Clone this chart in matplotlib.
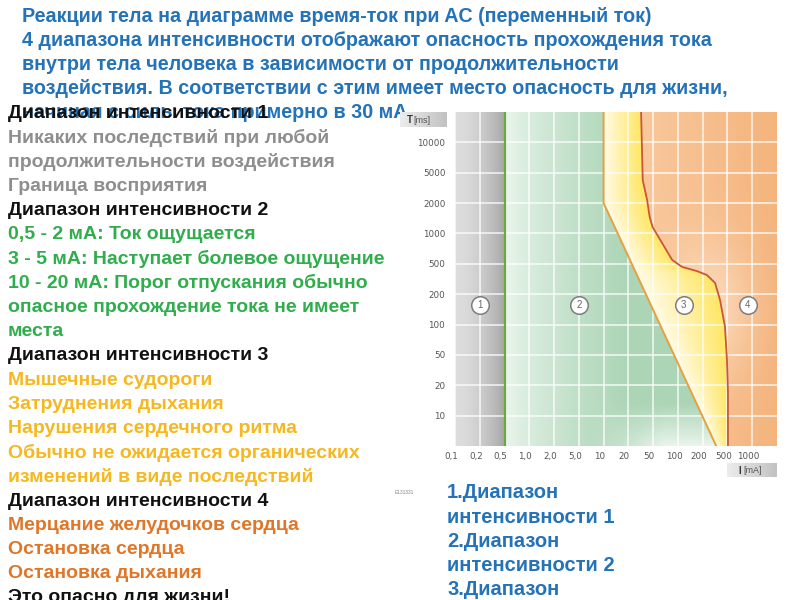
import numpy as np
import matplotlib
matplotlib.use("Agg")
from matplotlib import pyplot as plt
from matplotlib.colors import to_rgb, LinearSegmentedColormap
from matplotlib.transforms import ScaledTranslation

# шкалы диаграммы (ряд 1-2-5, шаг сетки одинаковый)
current_ticks = [0.1, 0.2, 0.5, 1, 2, 5, 10, 20, 50, 100, 200, 500, 1000]
current_labels = ["0,1", "0,2", "0,5", "1,0", "2,0", "5,0", "10", "20", "50", "100", "200", "500", "1000"]
time_ticks = [10, 20, 50, 100, 200, 500, 1000, 2000, 5000, 10000]
time_labels = ["10", "20", "50", "100", "200", "500", "1000", "2000", "5000", "10000"]

# границы зон (мА / мс)
perception_limit = 0.5
curve_b_ma = [10, 10, 330]
curve_b_ms = [20000, 2000, 5]
curve_c_ma = [32, 34, 40, 44, 49, 64, 85, 112, 171, 234, 316, 380, 456, 491, 507, 507]
curve_c_ms = [20000, 4010, 2190, 1454, 1157, 807, 547, 456, 401, 356, 281, 175, 95, 43, 17, 5]

zone_labels = ["1", "2", "3", "4"]
zone_label_ma = [0.2, 5, 118, 880]
zone_label_ms = [155, 155, 155, 155]

title_lines = [
    "Реакции тела на диаграмме время-ток при AC (переменный ток)",
    "4 диапазона интенсивности отображают опасность прохождения тока",
    "внутри тела человека в зависимости от продолжительности",
    "воздействия. В соответствии с этим имеет место опасность для жизни,",
    "начиная с силы тока примерно в 30 мА.",
]

left_lines = [
    ("Диапазон интенсивности 1", "k"),
    ("Никаких последствий при любой", "gray"),
    ("продолжительности воздействия", "gray"),
    ("Граница восприятия", "gray"),
    ("Диапазон интенсивности 2", "k"),
    ("0,5 - 2 мА: Ток ощущается", "green"),
    ("3 - 5 мА: Наступает болевое ощущение", "green"),
    ("10 - 20 мА: Порог отпускания обычно", "green"),
    ("опасное прохождение тока не имеет", "green"),
    ("места", "green"),
    ("Диапазон интенсивности 3", "k"),
    ("Мышечные судороги", "yellow"),
    ("Затруднения дыхания", "yellow"),
    ("Нарушения сердечного ритма", "yellow"),
    ("Обычно не ожидается органических", "yellow"),
    ("изменений в виде последствий", "yellow"),
    ("Диапазон интенсивности 4", "k"),
    ("Мерцание желудочков сердца", "orange"),
    ("Остановка сердца", "orange"),
    ("Остановка дыхания", "orange"),
    ("Это опасно для жизни!", "k"),
]

right_lines = ["1.Диапазон", "интенсивности 1", "2.Диапазон", "интенсивности 2", "3.Диапазон"]

text_colors = {"k": "#111111", "gray": "#8e8e8e", "green": "#30ad4c",
               "yellow": "#f6b81e", "orange": "#e07628"}
BLUE = "#2472b8"

# равномерная сетка: значение -> номер клетки
x_nodes = np.log10(current_ticks + [2000])
y_nodes = np.log10([5] + time_ticks + [20000])


def fwd_x(v):
    return np.interp(np.log10(np.clip(v, 1e-9, None)), x_nodes, np.arange(len(x_nodes)))


def inv_x(p):
    return 10 ** np.interp(p, np.arange(len(x_nodes)), x_nodes)


def fwd_y(v):
    return np.interp(np.log10(np.clip(v, 1e-9, None)), y_nodes, np.arange(len(y_nodes)))


def inv_y(p):
    return 10 ** np.interp(p, np.arange(len(y_nodes)), y_nodes)


def mix(c1, c2, t):
    c1 = np.array(to_rgb(c1))
    c2 = np.array(to_rgb(c2))
    t = np.clip(t, 0, 1)[..., None]
    return c1 + (c2 - c1) * t


fig = plt.figure(figsize=(8, 6), dpi=100)
body_font = ["Liberation Sans", "DejaVu Sans"]

pos = [455 / 800, 1 - 446 / 600, 322 / 800, 334 / 600]

# фон с зонами
bg = fig.add_axes(pos, zorder=0)
nx, ny = len(x_nodes) - 1, len(y_nodes) - 1
W, H = 650, 550
X, Y = np.meshgrid((np.arange(W) + 0.5) / W * nx, (np.arange(H) + 0.5) / H * ny)
xb = np.interp(Y, fwd_y(curve_b_ms)[::-1], fwd_x(curve_b_ma)[::-1])
xc = np.interp(Y, fwd_y(curve_c_ms)[::-1], fwd_x(curve_c_ma)[::-1])
x_lim = fwd_x(perception_limit)

gray = mix("#dddddd", "#a7a7a7", (X / x_lim) ** 1.8)
green = mix("#eef7f0", "#acd5b6", np.clip((X - x_lim) / 5, 0, 1) ** 0.7)
fade = np.clip(1 - Y / 1.4, 0, 1) * np.clip((X - 5.5) / 3, 0, 1)
green = green + (1 - green) * (0.75 * fade)[..., None]
yellow = mix("#fffbea", "#ffe765", ((X - xb) / np.maximum(xc - xb, 1e-6)) ** 0.9)
orange = mix("#f8c699", "#f4b47d", np.clip((X - 8) / 5, 0, 1))
light = np.exp(-((X - 10.2) ** 2 / 3.0 + (Y - 4.5) ** 2 / 5.0))
orange = orange + (np.array(to_rgb("#fde2ca")) - orange) * (0.75 * light)[..., None]

img = np.where((X < x_lim)[..., None], gray,
               np.where((X < xb)[..., None], green,
                        np.where((X < xc)[..., None], yellow, orange)))
bg.imshow(img, extent=(0, nx, 0, ny), origin="lower", aspect="auto", interpolation="bilinear")
bg.set_xlim(0, nx)
bg.set_ylim(0, ny)
bg.axis("off")

# основная ось
ax = fig.add_axes(pos, zorder=1)
ax.patch.set_visible(False)
ax.set_xscale("function", functions=(fwd_x, inv_x))
ax.set_yscale("function", functions=(fwd_y, inv_y))
ax.set_xlim(0.1, 2000)
ax.set_ylim(5, 20000)
ax.set_xticks(current_ticks, current_labels)
ax.set_yticks(time_ticks, time_labels)
ax.minorticks_off()
ax.grid(True, color="white", lw=1.1, alpha=0.85)
ax.tick_params(length=0, labelsize=6.3, labelcolor="#555555")
ax.tick_params(axis="x", pad=4)
ax.tick_params(axis="y", pad=7)
for lab in ax.get_xticklabels():
    lab.set_transform(lab.get_transform() + ScaledTranslation(-4 / 100, 0, fig.dpi_scale_trans))
for s in ax.spines.values():
    s.set_visible(False)

ax.axvline(perception_limit, color="#6aaa3a", lw=1.6, zorder=3)
ax.plot(curve_b_ma, curve_b_ms, color="#e6a03c", lw=1.4, zorder=3)
ax.plot(curve_c_ma, curve_c_ms, color="#c9573a", lw=1.3, zorder=3)

ax.scatter(zone_label_ma, zone_label_ms, s=160, facecolor="white", edgecolor="#7d7d7d", lw=1.1, zorder=5)
for lab, xm, ym in zip(zone_labels, zone_label_ma, zone_label_ms):
    ax.text(xm, ym, lab, ha="center", va="center", fontsize=7, color="#666666", zorder=6,
            family=body_font)

# подписи осей в серых плашках
grad = np.linspace(0, 1, 100)[None, :]
for (x0, y0, w, h), t1, t2, rel in [((400, 112, 47, 15), "T", "[ms]", 0.2),
                                    ((727, 463, 50, 14), "I", "[mA]", 0.25)]:
    box = fig.add_axes([x0 / 800, 1 - (y0 + h) / 600, w / 800, h / 600], zorder=2)
    box.imshow(grad, cmap=LinearSegmentedColormap.from_list("g", ["#ececec", "#c2c2c2"]),
               aspect="auto", extent=(0, 1, 0, 1))
    box.axis("off")
    box.text(rel, 0.45, t1, ha="center", va="center", fontsize=7, fontweight="bold", color="#333333",
             family=body_font)
    box.text(rel + 0.08, 0.45, t2, ha="left", va="center", fontsize=6.5, color="#555555",
             family=body_font)

fig.text(395 / 800, 1 - 492 / 600, "E131331", fontsize=3.5, color="#888888", va="center", family=body_font)

# текст слайда
for i, line in enumerate(title_lines):
    fig.text(22 / 800, 1 - (17 + 24 * i) / 600, line, fontsize=14.2, fontweight="bold", color=BLUE,
             va="center", family=body_font, zorder=1)

for i, (line, col) in enumerate(left_lines):
    fig.text(8 / 800, 1 - (114 + 24.2 * i) / 600, line, fontsize=14, fontweight="bold",
             color=text_colors[col], va="center", family=body_font, zorder=3)

for i, line in enumerate(right_lines):
    fig.text(447 / 800, 1 - (493 + 24.2 * i) / 600, line, fontsize=14.5, fontweight="bold",
             color=BLUE, va="center", family=body_font, zorder=3)

fig.savefig("out.png", dpi=100)
